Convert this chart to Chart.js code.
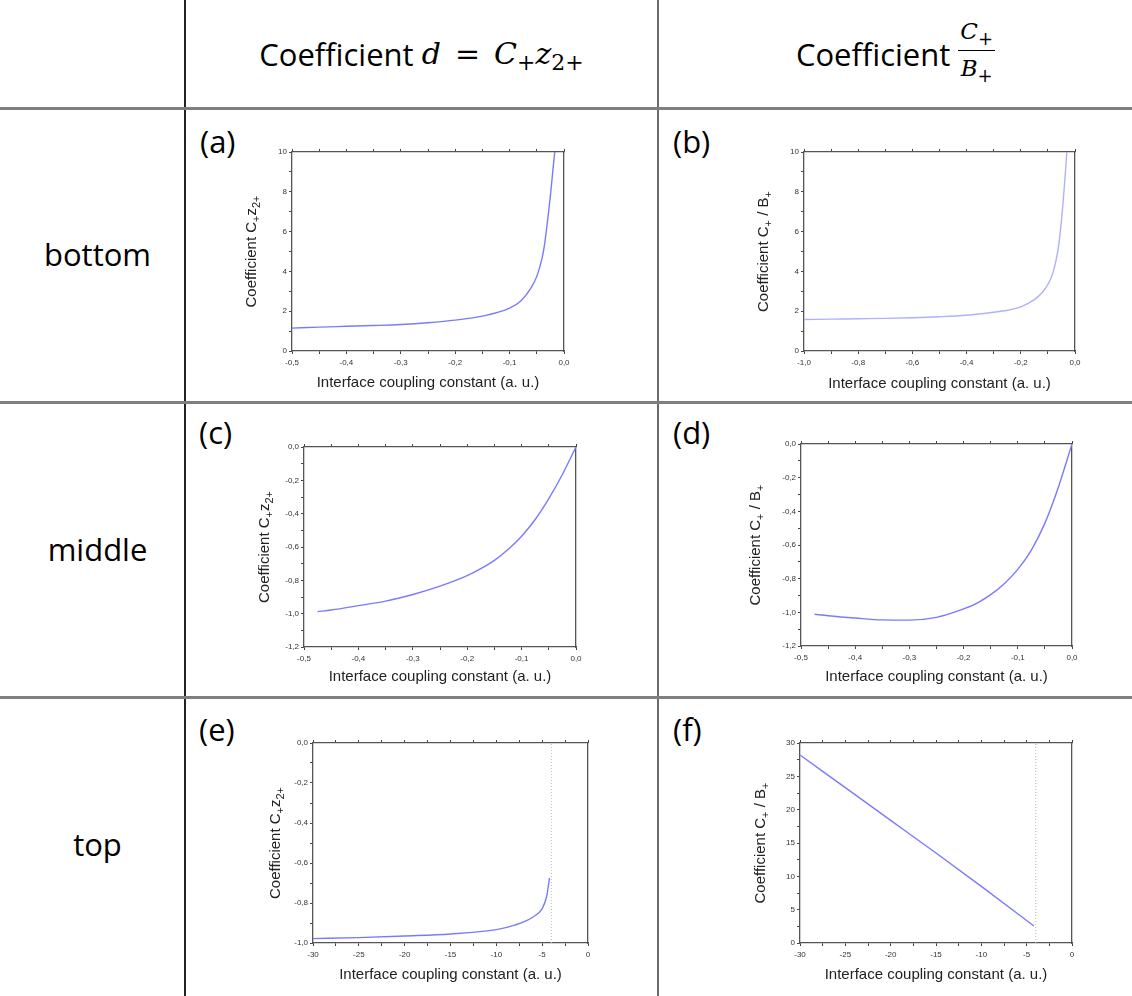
<!DOCTYPE html>
<html>
<head>
<meta charset="utf-8">
<script src="https://cdn.jsdelivr.net/npm/chart.js@4.4.1/dist/chart.umd.min.js"></script>
<style>
body { margin:0; width:1132px; height:996px; background:#fff; position:relative; overflow:hidden; font-family:"Open Sans", sans-serif; color:#000; }
.hl { position:absolute; left:0; width:1132px; height:3px; background:#7f7f7f; }
.vl { position:absolute; top:0; height:996px; }
.rowlab { position:absolute; left:0; width:195px; text-align:center; font-size:31px; }
.panel { position:absolute; font-size:31px; }
.head { position:absolute; top:0; height:107px; display:flex; align-items:center; justify-content:center; font-size:31px; white-space:nowrap; }
.m { font-family:"DejaVu Serif", serif; font-style:italic; font-size:30px; }
.op { font-family:"DejaVu Serif", serif; font-size:30px; margin:0 14px; }
.sb { font-family:"DejaVu Serif", serif; font-size:22px; position:relative; top:9px; }
.frac { display:inline-flex; flex-direction:column; align-items:center; font-family:"DejaVu Serif", serif; font-size:23px; position:relative; top:-2px; margin-left:8px; }
.frac .num { border-bottom:1.5px solid #000; padding:0 2px 2px 2px; line-height:30px; }
.frac .den { line-height:34px; }
.frac i { font-style:italic; }
.frac small { font-size:18px; position:relative; top:6px; }
canvas { position:absolute; }
</style>
</head>
<body>
<div class="vl" style="left:184px;width:2px;background:#222;"></div>
<div class="vl" style="left:657px;width:2px;background:#6a6a6a;"></div>
<div class="hl" style="top:107px;"></div>
<div class="hl" style="top:401px;"></div>
<div class="hl" style="top:696px;"></div>

<div class="head" style="left:186px;width:471px;">Coefficient&nbsp;<span class="m">d</span><span class="op">=</span><span class="m">C</span><span class="sb">+</span><span class="m">z</span><span class="sb">2+</span></div>
<div class="head" style="left:659px;width:473px;">Coefficient<span class="frac"><span class="num"><i>C</i><small>+</small></span><span class="den"><i>B</i><small>+</small></span></span></div>

<div class="rowlab" style="top:233px;">bottom</div>
<div class="rowlab" style="top:528px;">middle</div>
<div class="rowlab" style="top:823px;">top</div>

<div class="panel" style="left:200px;top:120px;">(a)</div>
<div class="panel" style="left:673px;top:120px;">(b)</div>
<div class="panel" style="left:199px;top:411px;">(c)</div>
<div class="panel" style="left:673px;top:411px;">(d)</div>
<div class="panel" style="left:199px;top:708px;">(e)</div>
<div class="panel" style="left:673px;top:708px;">(f)</div>

<canvas id="ca"></canvas>
<canvas id="cb"></canvas>
<canvas id="cc"></canvas>
<canvas id="cd"></canvas>
<canvas id="ce"></canvas>
<canvas id="cf"></canvas>

<script>
// (a) bottom, C+ z2+
var xA = [-0.5, -0.45, -0.4, -0.35, -0.3, -0.25, -0.2, -0.15, -0.1, -0.08, -0.06, -0.05, -0.04, -0.035, -0.03, -0.025, -0.02, -0.017];
var yA = [1.15, 1.2, 1.24, 1.28, 1.33, 1.42, 1.55, 1.75, 2.15, 2.5, 3.2, 3.75, 4.7, 5.5, 6.6, 7.8, 9.2, 10];
// (b) bottom, C+ / B+
var xB = [-1, -0.9, -0.8, -0.7, -0.6, -0.5, -0.4, -0.3, -0.25, -0.2, -0.15, -0.12, -0.1, -0.09, -0.08, -0.07, -0.06, -0.05, -0.04, -0.03];
var yB = [1.58, 1.6, 1.62, 1.64, 1.67, 1.72, 1.8, 1.95, 2.05, 2.22, 2.58, 2.95, 3.35, 3.62, 4.0, 4.55, 5.35, 6.55, 8.15, 10];
// (c) middle, C+ z2+
var xC = [-0.475, -0.45, -0.4, -0.35, -0.3, -0.25, -0.2, -0.175, -0.15, -0.125, -0.1, -0.075, -0.05, -0.025, 0];
var yC = [-0.988, -0.978, -0.952, -0.925, -0.885, -0.835, -0.772, -0.73, -0.68, -0.615, -0.535, -0.435, -0.31, -0.165, 0];
// (d) middle, C+ / B+
var xD = [-0.475, -0.45, -0.4, -0.35, -0.3, -0.25, -0.2, -0.175, -0.15, -0.125, -0.1, -0.075, -0.05, -0.025, 0];
var yD = [-1.011, -1.02, -1.034, -1.045, -1.046, -1.03, -0.98, -0.945, -0.895, -0.83, -0.745, -0.63, -0.47, -0.255, 0];
// (e) top, C+ z2+
var xE = [-30, -25, -20, -15, -10, -8, -6, -5, -4.5, -4.2];
var yE = [-0.978, -0.973, -0.965, -0.955, -0.933, -0.911, -0.87, -0.828, -0.765, -0.674];
// (f) top, C+ / B+
var xF = [-30, -25, -20, -15, -10, -4.2];
var yF = [28.2, 23.3, 18.4, 13.5, 8.5, 2.55];
// dotted limit lines in (e) and (f)
var xLimE = [-4, -4], yLimE = [-1, 0];
var xLimF = [-4, -4], yLimF = [0, 30];

// y titles as [text, isSubscript] pieces
var titleCz = [['Coefficient C', 0], ['+', 1], ['z', 0], ['2+', 1]];
var titleCB = [['Coefficient C', 0], ['+', 1], [' / B', 0], ['+', 1]];
var titleX = 'Interface coupling constant (a. u.)';

var T = 12, R = 20;

function pts(xs, ys) {
    var out = [];
    for (var i = 0; i < xs.length; i++) out.push({x: xs[i], y: ys[i]});
    return out;
}

function tickFmt(major, dec) {
    return function (v) {
        var k = v / major;
        if (Math.abs(k - Math.round(k)) > 1e-6) return '';
        if (Math.abs(v) < 1e-9) v = 0;
        return v.toFixed(dec).replace('.', ',');
    };
}

// draws the rotated y title with real subscripts
var yTitlePlugin = {
    id: 'yTitle',
    afterDraw: function (chart, args, opts) {
        var ctx = chart.ctx, area = chart.chartArea;
        var big = '15px "Liberation Sans"', small = '11px "Liberation Sans"';
        var w = 0;
        opts.parts.forEach(function (p) {
            ctx.font = p[1] ? small : big;
            w += ctx.measureText(p[0]).width;
        });
        ctx.save();
        ctx.translate(area.left - opts.dist, (area.top + area.bottom) / 2);
        ctx.rotate(-Math.PI / 2);
        ctx.fillStyle = '#222';
        ctx.textBaseline = 'alphabetic';
        ctx.textAlign = 'left';
        var x = -w / 2;
        opts.parts.forEach(function (p) {
            ctx.font = p[1] ? small : big;
            ctx.fillText(p[0], x, p[1] ? 9 : 5);
            x += ctx.measureText(p[0]).width;
        });
        ctx.restore();
    }
};

function makeChart(p) {
    var L = p.yDist + 9, B = p.xDist + 9;
    var r = p.rect;
    var cv = document.getElementById(p.id);
    cv.width = r[2] - r[0] + L + R;
    cv.height = r[3] - r[1] + T + B;
    cv.style.left = (r[0] - L) + 'px';
    cv.style.top = (r[1] - T) + 'px';

    var datasets = [{
        data: pts(p.x, p.y),
        borderColor: p.color,
        borderWidth: 1.4,
        pointRadius: 0,
        fill: false,
        cubicInterpolationMode: 'monotone'
    }];
    if (p.limX) {
        datasets.push({
            data: pts(p.limX, p.limY),
            borderColor: '#b8b8b8',
            borderWidth: 1,
            borderDash: [1, 2],
            pointRadius: 0,
            fill: false
        });
    }
    var tickFont = {family: 'Liberation Sans', size: 8};
    var grid = {drawOnChartArea: false, drawTicks: true, tickLength: 3, color: '#444', tickColor: '#444'};
    var border = {display: true, color: '#555', width: 1.3};

    return new Chart(cv.getContext('2d'), {
        type: 'line',
        data: {datasets: datasets},
        plugins: [yTitlePlugin],
        options: {
            responsive: false,
            animation: false,
            clip: true,
            layout: {padding: 0},
            plugins: {
                legend: {display: false},
                tooltip: {enabled: false},
                yTitle: {parts: p.title, dist: p.yDist}
            },
            scales: {
                x: {
                    type: 'linear', position: 'bottom', min: p.xMin, max: p.xMax,
                    ticks: {stepSize: p.xStep, autoSkip: false, maxRotation: 0, padding: 4,
                        font: tickFont, color: '#333', callback: tickFmt(p.xMajor, p.xDec)},
                    grid: grid, border: border,
                    title: {display: true, text: titleX, padding: 0, color: '#222',
                        font: {family: 'Liberation Sans', size: 15}},
                    afterFit: function (s) { s.height = B; }
                },
                x2: {
                    type: 'linear', position: 'top', min: p.xMin, max: p.xMax,
                    ticks: {display: false, stepSize: p.xStep, autoSkip: false},
                    grid: grid, border: border,
                    afterFit: function (s) { s.height = T; }
                },
                y: {
                    type: 'linear', position: 'left', min: p.yMin, max: p.yMax,
                    ticks: {stepSize: p.yStep, autoSkip: false, padding: 2,
                        font: tickFont, color: '#333', callback: tickFmt(p.yMajor, p.yDec)},
                    grid: grid, border: border,
                    afterFit: function (s) { s.width = L; }
                },
                y2: {
                    type: 'linear', position: 'right', min: p.yMin, max: p.yMax,
                    ticks: {display: false},
                    grid: {display: false}, border: border,
                    afterFit: function (s) { s.width = R; }
                }
            }
        }
    });
}

var panels = [
    {id: 'ca', rect: [292, 152, 564, 351], yDist: 41, xDist: 32, x: xA, y: yA, color: '#7a7aff', title: titleCz,
        xMin: -0.5, xMax: 0, xStep: 0.05, xMajor: 0.1, xDec: 1, yMin: 0, yMax: 10, yStep: 1, yMajor: 2, yDec: 0},
    {id: 'cb', rect: [804, 152, 1075, 351], yDist: 41, xDist: 33, x: xB, y: yB, color: '#b0b0ff', title: titleCB,
        xMin: -1, xMax: 0, xStep: 0.1, xMajor: 0.2, xDec: 1, yMin: 0, yMax: 10, yStep: 1, yMajor: 2, yDec: 0},
    {id: 'cc', rect: [304, 447, 576, 647], yDist: 40, xDist: 30, x: xC, y: yC, color: '#7a7aff', title: titleCz,
        xMin: -0.5, xMax: 0, xStep: 0.05, xMajor: 0.1, xDec: 1, yMin: -1.2, yMax: 0, yStep: 0.1, yMajor: 0.2, yDec: 1},
    {id: 'cd', rect: [801, 444, 1072, 646], yDist: 46, xDist: 31, x: xD, y: yD, color: '#7a7aff', title: titleCB,
        xMin: -0.5, xMax: 0, xStep: 0.05, xMajor: 0.1, xDec: 1, yMin: -1.2, yMax: 0, yStep: 0.1, yMajor: 0.2, yDec: 1},
    {id: 'ce', rect: [313, 743, 588, 943], yDist: 38, xDist: 32, x: xE, y: yE, color: '#7a7aff', title: titleCz,
        limX: xLimE, limY: yLimE,
        xMin: -30, xMax: 0, xStep: 2.5, xMajor: 5, xDec: 0, yMin: -1, yMax: 0, yStep: 0.1, yMajor: 0.2, yDec: 1},
    {id: 'cf', rect: [800, 743, 1072, 943], yDist: 40, xDist: 32, x: xF, y: yF, color: '#7a7aff', title: titleCB,
        limX: xLimF, limY: yLimF,
        xMin: -30, xMax: 0, xStep: 2.5, xMajor: 5, xDec: 0, yMin: 0, yMax: 30, yStep: 2.5, yMajor: 5, yDec: 0}
];

panels.forEach(makeChart);
</script>
</body>
</html>
